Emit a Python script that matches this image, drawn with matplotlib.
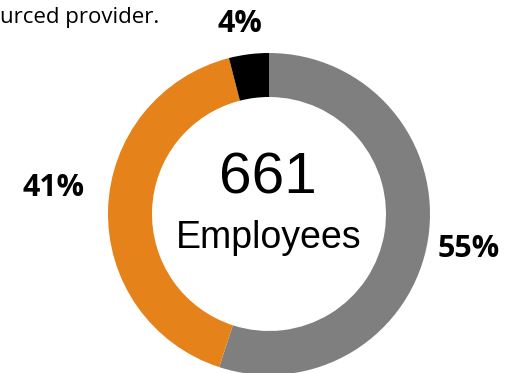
#!/usr/bin/env python3

"""Donut chart of employees by provider type."""
from matplotlib import pyplot as plt


SHARES = [55, 41, 4]
COLORS = ['#7f7f7f', '#e5831a', '#000000']
# label anchor points (x, y) in pixels from the top-left corner
LABEL_POS = [(469, 249), (54, 188), (240, 24)]
TOTAL = 661
CAPTION = 'Employees'
NOTE = 'urced provider.'

W, H = 506, 373
CX, CY = 269, 214
R_OUT, RING = 161, 44


fig = plt.figure(figsize=(W / 100, H / 100), dpi=100)
ax = fig.add_axes([0, 0, 1, 1])

ax.pie(SHARES, colors=COLORS, startangle=90, counterclock=False,
       radius=R_OUT, center=(CX, H - CY),
       wedgeprops=dict(width=RING, linewidth=0), frame=True)
ax.set_xlim(0, W)
ax.set_ylim(0, H)
ax.set_aspect('equal')
ax.axis('off')

for share, (x, y) in zip(SHARES, LABEL_POS):
    ax.text(x, H - y, '{:d}%'.format(share), ha='center', va='center',
            fontsize=22, fontweight='bold', family='Open Sans',
            color='black')

ax.text(CX - 1, H - 179, str(TOTAL), ha='center', va='center',
        fontsize=42, family='Liberation Sans', color='black')
ax.text(CX, H - 238, CAPTION, ha='center', va='center',
        fontsize=27, family='Liberation Sans', color='black')

ax.text(0, H - 18, NOTE, ha='left', va='center',
        fontsize=16, family='Open Sans', color='black')

fig.savefig('out.png', dpi=100)
